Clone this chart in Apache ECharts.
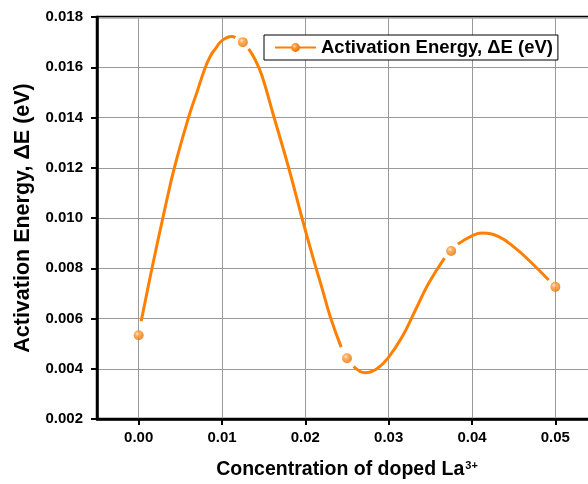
<!DOCTYPE html>
<html>
<head>
<meta charset="utf-8">
<script src="https://cdn.jsdelivr.net/npm/echarts@6/dist/echarts.min.js"></script>
<style>html,body{margin:0;padding:0;background:#fff}#c{width:588px;height:484px}</style>
</head>
<body>
<div id="c"></div>
<script>
// Measured data points
const concentration = [0, 0.0125, 0.025, 0.0375, 0.05];
const activationEnergy = [0.00533, 0.0170, 0.00442, 0.00869, 0.00726];
// Fitted curve (null = break in line around markers)
const curveX = [0.0003, 0.0016, 0.0032, 0.0043, 0.0060, 0.0070, 0.0080, 0.0086, 0.0092, 0.0100, 0.0112, 0.0116,
  0.0125,
  0.0132, 0.0140, 0.0148, 0.0162, 0.0180, 0.0196, 0.0210, 0.0220, 0.0230, 0.0243,
  0.025,
  0.0258, 0.0272, 0.0286, 0.0300, 0.0316, 0.0332, 0.0348, 0.0367,
  0.0375,
  0.0383, 0.0400, 0.0412, 0.0432, 0.0452, 0.0472, 0.0492];
const curveY = [0.00589, 0.0080, 0.01045, 0.01202, 0.01402, 0.01501, 0.0160, 0.01644, 0.01673, 0.01706, 0.01722, 0.01718,
  null,
  0.01673, 0.01629, 0.01566, 0.01406, 0.0120, 0.0100, 0.00833, 0.00721, 0.00606, 0.00486,
  null,
  0.00409, 0.00384, 0.0040, 0.00446, 0.00526, 0.00633, 0.0074, 0.0084,
  null,
  0.00896, 0.00929, 0.0094, 0.00926, 0.0088, 0.0082, 0.00753];
const xTicks = [0, 0.01, 0.02, 0.03, 0.04, 0.05];
const seriesName = 'Activation Energy, \u0394E (eV)';

const orange = '#FF8000';
const sphere = {
  type: 'radial', x: 0.38, y: 0.35, r: 0.65,
  colorStops: [
    {offset: 0, color: '#ffe2bf'},
    {offset: 0.35, color: '#ff9a33'},
    {offset: 1, color: '#e86f00'}
  ]
};
const font = 'Liberation Sans, Arial, sans-serif';

const chart = echarts.init(document.getElementById('c'), null, {renderer: 'canvas'});
chart.setOption({
  animation: false,
  backgroundColor: '#fff',
  textStyle: {fontFamily: font},
  grid: {
    left: 97, top: 17, right: -9, bottom: 65,
    show: true, borderColor: '#000', borderWidth: 2.5,
    outerBoundsMode: 'none', containLabel: false
  },
  legend: {
    left: 264, top: 35,
    data: [seriesName],
    itemWidth: 41, itemHeight: 11, itemGap: 6,
    padding: [3, 5, 3, 10],
    borderColor: '#000', borderWidth: 1, backgroundColor: '#fff',
    textStyle: {fontFamily: font, fontWeight: 'bold', fontSize: 18.5, color: '#000'}
  },
  xAxis: {
    type: 'value', min: -0.005, max: 0.055,
    name: 'Concentration of doped La{sup|3+}',
    nameLocation: 'middle', nameGap: 41,
    nameTextStyle: {
      fontFamily: font, fontWeight: 'bold', fontSize: 19.5, color: '#000',
      rich: {sup: {fontFamily: font, fontWeight: 'bold', fontSize: 11, color: '#000', verticalAlign: 'top', padding: [0, 0, 9, 1]}}
    },
    axisLine: {show: true, onZero: false, lineStyle: {color: '#000', width: 2.5}},
    axisTick: {show: true, inside: false, length: 6, lineStyle: {color: '#000', width: 2}, customValues: xTicks},
    axisLabel: {
      customValues: xTicks, margin: 11,
      fontFamily: font, fontWeight: 'bold', fontSize: 15, color: '#000',
      formatter: v => v.toFixed(2)
    },
    splitLine: {show: true, lineStyle: {color: '#9a9a9a', width: 1}}
  },
  yAxis: {
    type: 'value', min: 0.002, max: 0.018, interval: 0.002,
    name: seriesName,
    nameLocation: 'middle', nameGap: 60,
    nameTextStyle: {fontFamily: font, fontWeight: 'bold', fontSize: 21.5, color: '#000'},
    axisLine: {show: true, onZero: false, lineStyle: {color: '#000', width: 2.5}},
    axisTick: {show: true, inside: false, length: 6, lineStyle: {color: '#000', width: 2}},
    axisLabel: {
      margin: 14, fontFamily: font, fontWeight: 'bold', fontSize: 15, color: '#000',
      formatter: v => v.toFixed(3)
    },
    splitLine: {show: true, lineStyle: {color: '#9a9a9a', width: 1}}
  },
  series: [
    {
      name: seriesName,
      type: 'line',
      data: curveX.map((x, i) => [x, curveY[i]]),
      smooth: 0.45,
      connectNulls: false,
      symbol: 'circle', symbolSize: 10, showSymbol: false,
      itemStyle: {color: sphere},
      lineStyle: {color: orange, width: 3},
      z: 3
    },
    {
      name: seriesName,
      type: 'scatter',
      data: concentration.map((x, i) => [x, activationEnergy[i]]),
      symbol: 'circle', symbolSize: 10,
      itemStyle: {color: sphere},
      z: 4
    }
  ]
});
</script>
</body>
</html>
